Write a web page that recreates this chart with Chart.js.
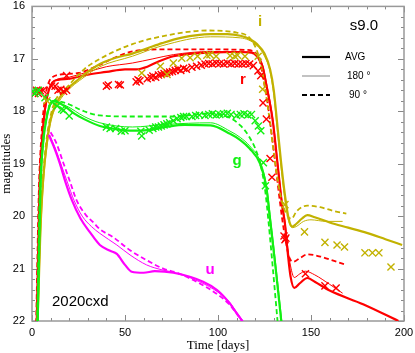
<!DOCTYPE html>
<html>
<head>
<meta charset="utf-8">
<script src="https://cdn.jsdelivr.net/npm/chart.js@4.4.1/dist/chart.umd.min.js"></script>
<style>
  html, body { margin: 0; padding: 0; background: #fff; }
  #wrap { width: 415px; height: 353px; }
</style>
</head>
<body>
<div id="wrap"><canvas id="lcChart" width="415" height="353"></canvas></div>
<script>
// light curves of 2020cxd vs model s9.0, [time in days, magnitude]

// i band
const iAvg = [[2.6,22.5],[4.5,20.3],[6,19.3],[8,18.6],[10,18.15],[13,17.85],[18,17.6],[24,17.42],[28,17.3],[36.5,17.1],[45,16.98],[54,16.9],[62,16.8],[70,16.7],[80,16.6],[96,16.53],[105,16.53],[112,16.56],[117,16.62],[121,16.72],[125,16.9],[128,17.2],[130,17.6],[132,18.3],[134,19.0],[136,19.6],[138,20.05],[140,20.2],[142,20.15],[145,20.05],[148,19.98],[152,20.02],[160,20.12],[170,20.22],[180,20.32],[190,20.44],[199,20.55]];
const i180 = [[2.8,22.5],[4.7,20.3],[6.3,19.3],[8.3,18.6],[10.5,18.15],[13.5,17.88],[18,17.65],[28,17.35],[36.5,17.15],[54,16.95],[70,16.75],[96,16.58],[112,16.6],[121,16.75],[125,16.95],[128,17.25],[130,17.7],[132,18.4],[134,19.1],[136,19.7],[138,20.1],[140,20.22],[142,20.2],[146,20.1],[150,20.07],[158,20.1],[167,20.1]];
const i90 = [[2.4,22.5],[4.2,20.3],[5.8,19.3],[7.6,18.6],[9.6,18.15],[12.5,17.8],[18.6,17.55],[28,17.2],[36.5,17.0],[54,16.72],[76,16.53],[94,16.46],[110,16.5],[117,16.6],[121,16.85],[123,17.1],[125,17.5],[127.5,18.1],[130,18.8],[132.5,19.4],[135,19.8],[137.5,20.0],[139.5,20.05],[142,19.92],[145,19.83],[148,19.8],[155,19.83],[162,19.9],[169,19.95]];
const iObs = [[8,17.8],[59,17.27],[69,17.14],[72.6,17.3],[76,17.08],[80.5,16.99],[85,16.98],[89,16.95],[94,16.93],[95.7,16.92],[99,16.95],[106.5,16.94],[109,16.95],[110.5,16.93],[114.5,16.95],[121.6,16.95],[124,17.58],[136,19.78],[146.5,20.3],[157.5,20.5],[164,20.55],[168,20.59],[179,20.7],[183,20.7],[186.5,20.7],[193,20.97]];

// r band
const rAvg = [[2.3,22.5],[4,19.5],[5.5,18.5],[7,17.95],[9,17.6],[11,17.45],[14,17.4],[20,17.38],[30,17.3],[40,17.25],[50,17.2],[56,17.2],[62,17.15],[68,17.05],[76,16.95],[86,16.9],[96,16.88],[110,16.87],[118,16.88],[121,16.95],[124,17.15],[126,17.5],[129.5,18.2],[132,19.0],[134.5,19.8],[136,20.15],[137.5,20.7],[139,21.15],[141,21.37],[144,21.28],[148,21.18],[152,21.25],[160,21.42],[178,21.68],[197,22.0]];
const r180 = [[2.5,22.5],[4.2,19.5],[5.8,18.5],[7.5,17.9],[9.5,17.55],[12,17.42],[20,17.35],[30,17.25],[40,17.15],[54,17.08],[65,17.0],[76,16.92],[96,16.86],[118,16.87],[121,16.93],[124,17.12],[126,17.45],[129.5,18.15],[132,18.95],[134.5,19.75],[136,20.1],[137.5,20.6],[139,20.95],[141,21.17],[144,21.1],[147,21.05],[152,21.12],[160,21.3],[167,21.47]];
const r90 = [[2.0,22.5],[3.7,19.5],[5.2,18.4],[7,17.75],[9,17.45],[11,17.35],[15,17.3],[25,17.27],[36,17.12],[45,16.97],[54,16.86],[70,16.82],[96,16.82],[115,16.83],[120,16.88],[122.5,17.05],[124.5,17.4],[126.5,17.8],[128,18.2],[130.5,18.9],[132.5,19.5],[134.5,20.05],[136.5,20.5],[138.5,20.8],[140.5,20.87],[144,20.8],[148,20.73],[155,20.77],[162,20.85],[169,20.93]];
const rObs = [[0.5,17.63],[1.5,17.66],[2.5,17.6],[3.5,17.66],[4.5,17.61],[6,17.6],[10.5,17.52],[12.4,17.52],[14,17.6],[15.5,17.58],[17,17.62],[18.6,17.6],[18.6,17.32],[40,17.52],[41,17.5],[46.5,17.49],[47.5,17.5],[56,17.44],[57,17.4],[58,17.42],[62,17.38],[64,17.36],[65,17.33],[66.5,17.35],[68,17.31],[69.5,17.3],[71,17.28],[72.5,17.26],[74,17.25],[75.5,17.24],[77,17.22],[78.5,17.2],[80,17.22],[81.5,17.18],[83,17.2],[86,17.16],[88.5,17.14],[91,17.12],[93,17.1],[95,17.09],[97,17.1],[99,17.08],[101,17.09],[103,17.1],[105,17.08],[107,17.1],[109,17.09],[111,17.1],[113,17.1],[115,17.09],[117,17.1],[119,17.13],[121.5,17.23],[123,17.32],[124.2,17.84],[126,18.15],[128,18.9],[129,19.26],[135.5,20.38],[136,20.45],[136.5,20.42],[147,21.1],[157.5,21.33],[163.5,21.37]];

// g band
const gAvg = [[2.8,22.5],[4.5,19.5],[6,18.6],[8,18.1],[10,17.85],[12,17.8],[15,17.85],[18.6,17.93],[23,18.05],[28,18.15],[36.5,18.28],[45,18.34],[54,18.37],[62,18.36],[72,18.3],[82,18.26],[96,18.27],[106.5,18.43],[112,18.55],[117,18.71],[122.6,19.0],[126,19.45],[128,20.08],[131,21.0],[134,22.0]];
const g180 = [[3,22.5],[4.7,19.5],[6.2,18.6],[8.2,18.1],[10.2,17.87],[12,17.82],[18.6,17.9],[28,18.1],[36.5,18.22],[54,18.3],[72,18.25],[96,18.22],[106.5,18.38],[112,18.5],[117,18.66],[122.6,18.95],[126,19.4],[128.3,20.05],[131.3,21.0],[134.3,22.0]];
const g90 = [[2.5,22.5],[4.2,19.5],[5.8,18.6],[7.8,18.1],[9.8,17.85],[12,17.8],[18.6,17.85],[28,18.0],[36.5,18.08],[54,18.1],[76,18.1],[96,18.04],[106,18.12],[112,18.27],[117,18.5],[121,18.8],[123.7,19.15],[125.5,19.55],[127,20.05],[129.5,21.0],[132,22.0]];
const gObs = [[0.5,17.62],[1.5,17.66],[2.5,17.63],[3.5,17.6],[7,17.74],[11,17.83],[13.5,17.9],[16,17.96],[17,17.98],[20,18.09],[40,18.3],[42,18.33],[45,18.33],[48,18.38],[50,18.37],[58.5,18.38],[59,18.47],[63,18.36],[65,18.33],[66.5,18.3],[68,18.3],[69.5,18.28],[71,18.26],[72.5,18.24],[74,18.22],[76,18.18],[78,18.14],[80,18.12],[81.5,18.1],[83,18.1],[86,18.1],[88,18.08],[90,18.07],[93,18.08],[95,18.06],[97,18.05],[99,18.07],[101,18.06],[103,18.05],[105,18.04],[107,18.06],[110,18.08],[112,18.06],[114,18.05],[116,18.07],[118,18.06],[120,18.18],[121.7,18.28],[123,18.37],[124.4,18.98],[125.5,19.42]];

// u band
const uAvg = [[9,18.45],[12,18.7],[15,19.0],[18,19.35],[21.5,19.7],[26,20.04],[31,20.3],[36.5,20.55],[42,20.66],[45.6,20.72],[50,20.93],[53.6,21.06],[60,21.08],[66,21.05],[76,21.08],[92,21.25],[99.5,21.41],[106,21.65],[110,21.85],[113,22.0]];
const u180 = [[9.5,18.45],[12.5,18.7],[16,19.05],[19,19.35],[22.6,19.7],[27,20.0],[32,20.2],[36.5,20.33],[45.6,20.55],[52.7,20.74],[61.6,20.93],[70.5,21.03],[76,21.07],[90,21.25],[100,21.45],[106,21.63],[110,21.83],[113.5,22.0]];
const u90 = [[10,18.4],[13,18.6],[17,19.0],[20.5,19.35],[24,19.7],[29,19.98],[33,20.12],[36.5,20.25],[43.6,20.4],[52.7,20.65],[61.6,20.84],[70.5,21.0],[78,21.08],[90,21.28],[100,21.5],[106,21.68],[110,21.86],[113,22.0]];

// tick values
const xMajor = [0, 50, 100, 150, 200];
const yMajor = [16, 17, 18, 19, 20, 21, 22];

const colI = '#c2b200';
const colR = '#ff0000';
const colG = '#12f012';
const colU = '#ff00ff';

function pts(arr) {
    return arr.map(p => ({ x: p[0], y: p[1] }));
}

function lineSet(arr, color, kind) {
    return {
        data: pts(arr),
        showLine: true,
        borderColor: color,
        borderWidth: kind === 'avg' ? 2.2 : (kind === 'thin' ? 1 : 1.8),
        borderDash: kind === 'dash' ? [5, 3] : [],
        pointRadius: 0,
        cubicInterpolationMode: 'monotone',
        order: 2
    };
}

function obsSet(arr, color) {
    return {
        data: pts(arr),
        showLine: false,
        pointStyle: 'crossRot',
        pointRadius: 5,
        pointBorderColor: color,
        pointBackgroundColor: color,
        pointBorderWidth: 1.4,
        order: 1
    };
}

const datasets = [
    lineSet(uAvg, colU, 'avg'), lineSet(u180, colU, 'thin'), lineSet(u90, colU, 'dash'),
    lineSet(gAvg, colG, 'avg'), lineSet(g180, colG, 'thin'), lineSet(g90, colG, 'dash'),
    lineSet(iAvg, colI, 'avg'), lineSet(i180, colI, 'thin'), lineSet(i90, colI, 'dash'),
    lineSet(rAvg, colR, 'avg'), lineSet(r180, colR, 'thin'), lineSet(r90, colR, 'dash'),
    obsSet(iObs, colI), obsSet(gObs, colG), obsSet(rObs, colR)
];

// frame with inward ticks on all four sides
const framePlugin = {
    id: 'frameTicks',
    beforeDatasetsDraw(chart) {
        const { ctx, chartArea: a, scales: { x, y } } = chart;
        ctx.save();
        ctx.strokeStyle = '#888';
        ctx.lineWidth = 1;
        ctx.beginPath();
        for (let t = 0; t <= 200; t += 10) {
            const px = Math.round(x.getPixelForValue(t)) + 0.5;
            const len = t % 50 === 0 ? 6 : 3;
            ctx.moveTo(px, a.bottom); ctx.lineTo(px, a.bottom - len);
            ctx.moveTo(px, a.top); ctx.lineTo(px, a.top + len);
        }
        for (let k = 0; k <= 30; k++) {
            const m = 16 + k * 0.2;
            const py = Math.round(y.getPixelForValue(m)) + 0.5;
            const len = k % 5 === 0 ? 6 : 3;
            ctx.moveTo(a.left, py); ctx.lineTo(a.left + len, py);
            ctx.moveTo(a.right, py); ctx.lineTo(a.right - len, py);
        }
        ctx.stroke();
        ctx.lineWidth = 1.5;
        ctx.strokeStyle = '#999';
        ctx.strokeRect(a.left, a.top, a.right - a.left, a.bottom - a.top);
        ctx.restore();
    },
    afterDraw(chart) {
        const { ctx } = chart;
        ctx.save();
        // legend of line styles
        ctx.strokeStyle = '#000';
        ctx.lineWidth = 2.2;
        ctx.beginPath(); ctx.moveTo(302, 57); ctx.lineTo(330, 57); ctx.stroke();
        ctx.strokeStyle = '#999';
        ctx.lineWidth = 1.2;
        ctx.beginPath(); ctx.moveTo(302, 76); ctx.lineTo(330, 76); ctx.stroke();
        ctx.strokeStyle = '#000';
        ctx.lineWidth = 1.8;
        ctx.setLineDash([5, 3]);
        ctx.beginPath(); ctx.moveTo(302, 95); ctx.lineTo(330, 95); ctx.stroke();
        ctx.setLineDash([]);

        ctx.fillStyle = '#000';
        ctx.textBaseline = 'middle';
        ctx.textAlign = 'left';
        ctx.font = '10px "Liberation Sans", Arial, sans-serif';
        ctx.fillText('AVG', 345, 57);
        ctx.fillText('180 °', 347, 76);
        ctx.fillText('90 °', 349, 95);

        ctx.font = '15px "Liberation Sans", Arial, sans-serif';
        ctx.textAlign = 'center';
        ctx.fillText('s9.0', 364, 26);
        ctx.textAlign = 'left';
        ctx.fillText('2020cxd', 52, 302);

        // band names
        ctx.font = 'bold 15px "Liberation Sans", Arial, sans-serif';
        ctx.textAlign = 'center';
        ctx.fillStyle = colI; ctx.fillText('i', 260, 22);
        ctx.fillStyle = colR; ctx.fillText('r', 243, 80);
        ctx.fillStyle = colG; ctx.fillText('g', 237, 161);
        ctx.fillStyle = colU; ctx.fillText('u', 210, 270);
        ctx.restore();
    }
};

const ctx = document.getElementById('lcChart').getContext('2d');
const lcChart = new Chart(ctx, {
    type: 'scatter',
    data: { datasets: datasets },
    options: {
        responsive: false,
        animation: false,
        layout: { padding: { top: 5, right: 11, left: 0, bottom: 0 } },
        plugins: {
            legend: { display: false },
            tooltip: { enabled: false }
        },
        scales: {
            x: {
                type: 'linear',
                min: 0,
                max: 200,
                afterBuildTicks: s => { s.ticks = xMajor.map(v => ({ value: v })); },
                ticks: {
                    color: '#000',
                    padding: 5,
                    maxRotation: 0,
                    font: { family: '"Liberation Sans", Arial, sans-serif', size: 11 }
                },
                grid: { display: false, drawTicks: false },
                border: { display: false },
                title: {
                    display: true,
                    text: 'Time [days]',
                    color: '#000',
                    padding: { top: 0, bottom: 1 },
                    font: { family: '"Liberation Serif", "Times New Roman", serif', size: 13, lineHeight: 1 }
                },
                afterFit: s => { s.height = 32; s.paddingLeft = 0; s.paddingRight = 0; }
            },
            y: {
                type: 'linear',
                reverse: true,
                min: 16,
                max: 22,
                afterBuildTicks: s => { s.ticks = yMajor.map(v => ({ value: v })); },
                ticks: {
                    color: '#000',
                    padding: 7,
                    font: { family: '"Liberation Sans", Arial, sans-serif', size: 11 }
                },
                grid: { display: false, drawTicks: false },
                border: { display: false },
                title: {
                    display: true,
                    text: 'magnitudes',
                    color: '#000',
                    padding: { top: 0, bottom: 0 },
                    font: { family: '"Liberation Serif", "Times New Roman", serif', size: 13, lineHeight: 1 }
                },
                afterFit: s => { s.width = 32; s.paddingTop = 0; s.paddingBottom = 0; }
            }
        }
    },
    plugins: [framePlugin]
});
</script>
</body>
</html>
